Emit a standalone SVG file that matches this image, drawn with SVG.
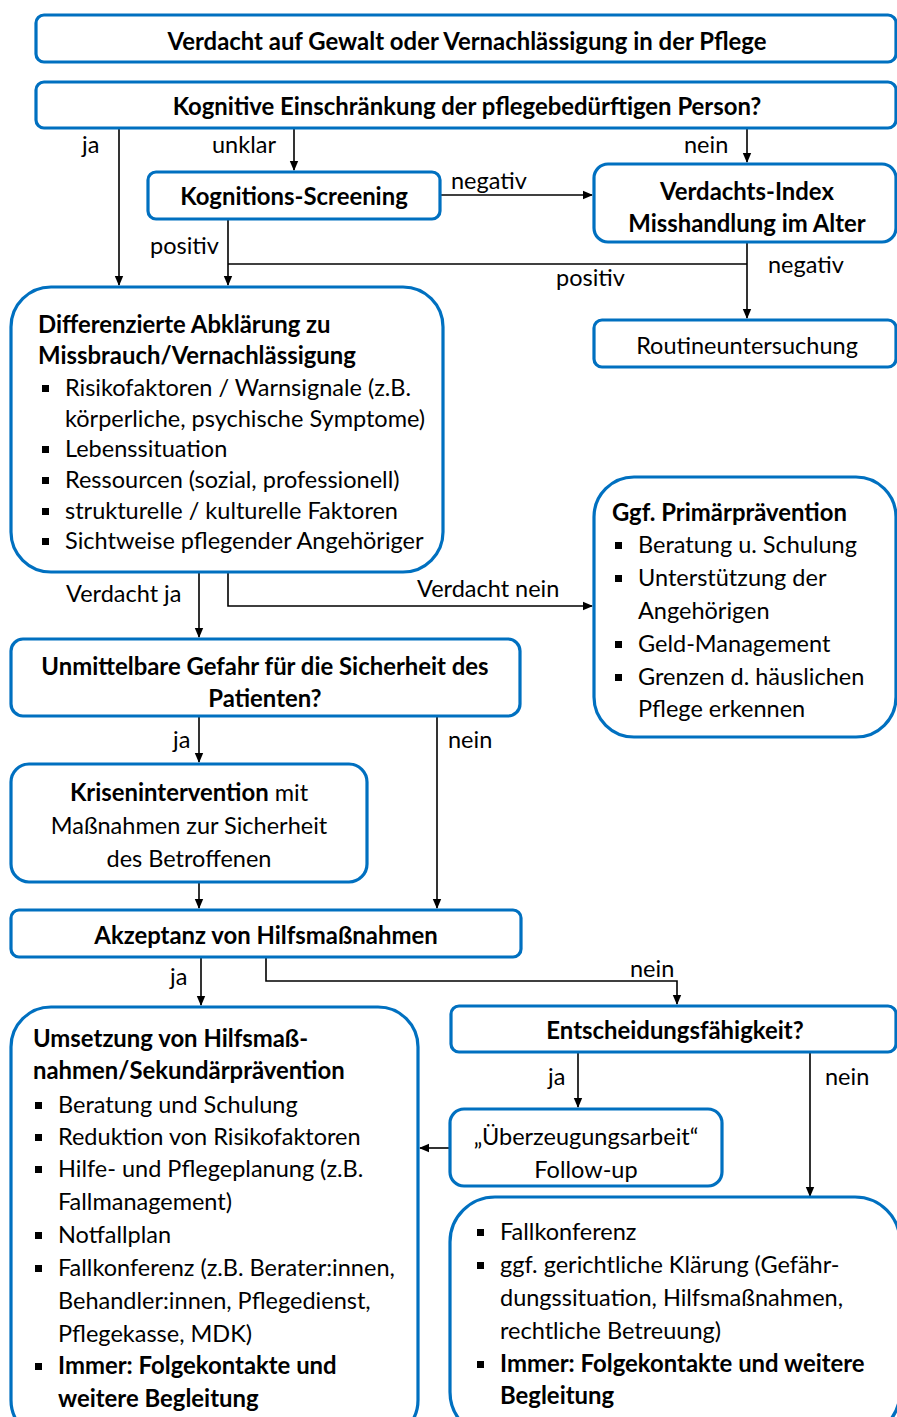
<svg xmlns="http://www.w3.org/2000/svg" width="897" height="1417" viewBox="0 0 897 1417">
<defs>
<style>
.box{fill:#fff;stroke:#0070C0;stroke-width:3.2}
.t{font-family:Lato,"Liberation Sans",sans-serif;font-size:23.5px;fill:#000}
.b{font-weight:bold;font-size:23.9px}
.c{text-anchor:middle}
.ln{fill:none;stroke:#000;stroke-width:1.6}
.sq{fill:#000}
</style>
<marker id="ah" markerWidth="10" markerHeight="10" refX="9" refY="5" orient="auto" markerUnits="userSpaceOnUse">
<path d="M0,0.8 L10,5 L0,9.2 Z" fill="#000"/>
</marker>
</defs>
<rect width="897" height="1417" fill="#fff"/>

<g id="connectors">
<line class="ln" x1="119" y1="128" x2="119" y2="285" marker-end="url(#ah)"/>
<line class="ln" x1="294" y1="128" x2="294" y2="170" marker-end="url(#ah)"/>
<line class="ln" x1="747" y1="128" x2="747" y2="162" marker-end="url(#ah)"/>
<line class="ln" x1="440" y1="195" x2="592" y2="195" marker-end="url(#ah)"/>
<line class="ln" x1="228" y1="219" x2="228" y2="285" marker-end="url(#ah)"/>
<line class="ln" x1="228" y1="264" x2="747" y2="264"/>
<line class="ln" x1="747" y1="242" x2="747" y2="318" marker-end="url(#ah)"/>
<line class="ln" x1="199" y1="572" x2="199" y2="637" marker-end="url(#ah)"/>
<polyline class="ln" points="228,572 228,606 592,606" marker-end="url(#ah)"/>
<line class="ln" x1="199" y1="716" x2="199" y2="762" marker-end="url(#ah)"/>
<line class="ln" x1="437" y1="716" x2="437" y2="908" marker-end="url(#ah)"/>
<line class="ln" x1="199" y1="882" x2="199" y2="908" marker-end="url(#ah)"/>
<line class="ln" x1="201" y1="957" x2="201" y2="1005" marker-end="url(#ah)"/>
<polyline class="ln" points="266,957 266,981 677,981 677,1004" marker-end="url(#ah)"/>
<line class="ln" x1="578" y1="1052" x2="578" y2="1107" marker-end="url(#ah)"/>
<line class="ln" x1="810" y1="1052" x2="810" y2="1196" marker-end="url(#ah)"/>
<line class="ln" x1="450" y1="1148" x2="420" y2="1148" marker-end="url(#ah)"/>
</g>

<g id="labels" class="t">
<text x="82" y="153">ja</text>
<text x="212" y="153">unklar</text>
<text x="684" y="153">nein</text>
<text x="451" y="189">negativ</text>
<text x="150" y="254">positiv</text>
<text x="556" y="286">positiv</text>
<text x="768" y="273">negativ</text>
<text x="66" y="602">Verdacht ja</text>
<text x="417" y="597">Verdacht nein</text>
<text x="173" y="748">ja</text>
<text x="448" y="748">nein</text>
<text x="170" y="985">ja</text>
<text x="630" y="977">nein</text>
<text x="548" y="1085">ja</text>
<text x="825" y="1085">nein</text>
</g>

<g id="n1">
<rect class="box" x="36" y="15" width="860" height="47" rx="8"/>
<text class="t b c" x="467" y="50">Verdacht auf Gewalt oder Vernachlässigung in der Pflege</text>
</g>
<g id="n2">
<rect class="box" x="36" y="82" width="860" height="46" rx="8"/>
<text class="t b c" x="467" y="115">Kognitive Einschränkung der pflegebedürftigen Person?</text>
</g>
<g id="n3">
<rect class="box" x="148" y="172" width="292" height="47" rx="8"/>
<text class="t b c" x="294" y="205">Kognitions-Screening</text>
</g>
<g id="n4">
<rect class="box" x="594" y="164" width="302" height="78" rx="14"/>
<text class="t b c" x="747" y="200">Verdachts-Index</text>
<text class="t b c" x="747" y="232">Misshandlung im Alter</text>
</g>
<g id="n5">
<rect class="box" x="594" y="320" width="302" height="47" rx="8"/>
<text class="t c" x="747" y="354">Routineuntersuchung</text>
</g>
<g id="n6">
<rect class="box" x="11" y="287" width="432" height="285" rx="40"/>
<text class="t b" x="38" y="333">Differenzierte Abklärung zu</text>
<text class="t b" x="38" y="364">Missbrauch/Vernachlässigung</text>
<rect class="sq" x="42" y="385" width="7" height="7"/>
<rect class="sq" x="42" y="446" width="7" height="7"/>
<rect class="sq" x="42" y="477" width="7" height="7"/>
<rect class="sq" x="42" y="508" width="7" height="7"/>
<rect class="sq" x="42" y="538" width="7" height="7"/>
<text class="t" x="65" y="396">Risikofaktoren / Warnsignale (z.B.</text>
<text class="t" x="65" y="427">körperliche, psychische Symptome)</text>
<text class="t" x="65" y="457">Lebenssituation</text>
<text class="t" x="65" y="488">Ressourcen (sozial, professionell)</text>
<text class="t" x="65" y="519">strukturelle / kulturelle Faktoren</text>
<text class="t" x="65" y="549">Sichtweise pflegender Angehöriger</text>
</g>
<g id="n7">
<rect class="box" x="594" y="477" width="302" height="260" rx="40"/>
<text class="t b" x="612" y="521">Ggf. Primärprävention</text>
<rect class="sq" x="615" y="542" width="7" height="7"/>
<rect class="sq" x="615" y="575" width="7" height="7"/>
<rect class="sq" x="615" y="641" width="7" height="7"/>
<rect class="sq" x="615" y="674" width="7" height="7"/>
<text class="t" x="638" y="553">Beratung u. Schulung</text>
<text class="t" x="638" y="586">Unterstützung der</text>
<text class="t" x="638" y="619">Angehörigen</text>
<text class="t" x="638" y="652">Geld-Management</text>
<text class="t" x="638" y="685">Grenzen d. häuslichen</text>
<text class="t" x="638" y="717">Pflege erkennen</text>
</g>
<g id="n8">
<rect class="box" x="11" y="639" width="509" height="77" rx="12"/>
<text class="t b c" x="265" y="675">Unmittelbare Gefahr für die Sicherheit des</text>
<text class="t b c" x="265" y="707">Patienten?</text>
</g>
<g id="n9">
<rect class="box" x="11" y="764" width="356" height="118" rx="18"/>
<text class="t c" x="189" y="801"><tspan class="b">Krisenintervention</tspan> mit</text>
<text class="t c" x="189" y="834">Maßnahmen zur Sicherheit</text>
<text class="t c" x="189" y="867">des Betroffenen</text>
</g>
<g id="n10">
<rect class="box" x="11" y="910" width="510" height="47" rx="8"/>
<text class="t b c" x="266" y="944">Akzeptanz von Hilfsmaßnahmen</text>
</g>
<g id="n11">
<rect class="box" x="11" y="1007" width="407" height="433" rx="40"/>
<text class="t b" x="33" y="1047">Umsetzung von Hilfsmaß-</text>
<text class="t b" x="33" y="1079">nahmen/Sekundärprävention</text>
<rect class="sq" x="35" y="1102" width="7" height="7"/>
<rect class="sq" x="35" y="1134" width="7" height="7"/>
<rect class="sq" x="35" y="1166" width="7" height="7"/>
<rect class="sq" x="35" y="1232" width="7" height="7"/>
<rect class="sq" x="35" y="1265" width="7" height="7"/>
<rect class="sq" x="35" y="1363" width="7" height="7"/>
<text class="t" x="58" y="1113">Beratung und Schulung</text>
<text class="t" x="58" y="1145">Reduktion von Risikofaktoren</text>
<text class="t" x="58" y="1177">Hilfe- und Pflegeplanung (z.B.</text>
<text class="t" x="58" y="1210">Fallmanagement)</text>
<text class="t" x="58" y="1243">Notfallplan</text>
<text class="t" x="58" y="1276">Fallkonferenz (z.B. Berater:innen,</text>
<text class="t" x="58" y="1309">Behandler:innen, Pflegedienst,</text>
<text class="t" x="58" y="1342">Pflegekasse, MDK)</text>
<text class="t b" x="58" y="1374">Immer: Folgekontakte und</text>
<text class="t b" x="58" y="1407">weitere Begleitung</text>
</g>
<g id="n12">
<rect class="box" x="451" y="1006" width="445" height="46" rx="8"/>
<text class="t b c" x="675" y="1039">Entscheidungsfähigkeit?</text>
</g>
<g id="n13">
<rect class="box" x="450" y="1109" width="272" height="77" rx="14"/>
<text class="t c" x="586" y="1145">„Überzeugungsarbeit“</text>
<text class="t c" x="586" y="1178">Follow-up</text>
</g>
<g id="n14">
<rect class="box" x="450" y="1197" width="450" height="240" rx="45"/>
<rect class="sq" x="477" y="1229" width="7" height="7"/>
<rect class="sq" x="477" y="1262" width="7" height="7"/>
<rect class="sq" x="477" y="1361" width="7" height="7"/>
<text class="t" x="500" y="1240">Fallkonferenz</text>
<text class="t" x="500" y="1273">ggf. gerichtliche Klärung (Gefähr-</text>
<text class="t" x="500" y="1306">dungssituation, Hilfsmaßnahmen,</text>
<text class="t" x="500" y="1339">rechtliche Betreuung)</text>
<text class="t b" x="500" y="1372">Immer: Folgekontakte und weitere</text>
<text class="t b" x="500" y="1404">Begleitung</text>
</g>
</svg>
